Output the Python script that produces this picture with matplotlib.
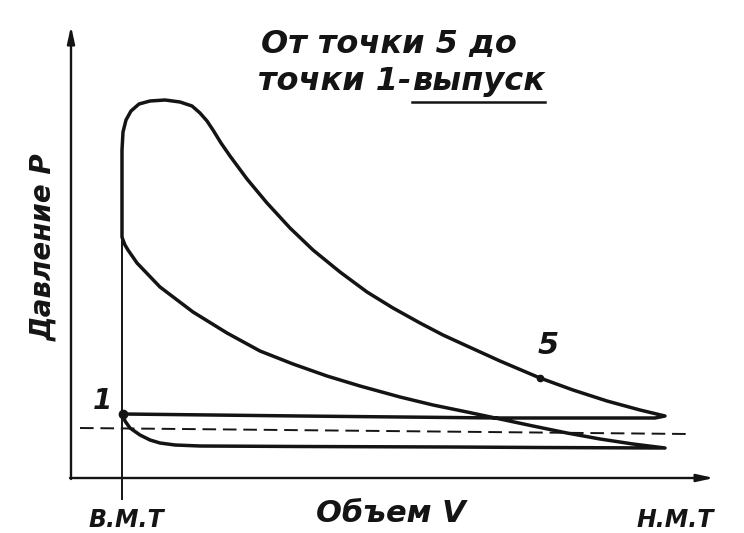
import numpy as np
import matplotlib
matplotlib.use("Agg")
import matplotlib.pyplot as plt

# Indicator diagram of a four-stroke engine (V, P in arbitrary units)
expansion_v = [5.1, 5.1, 5.1, 5.2, 5.5, 6.0, 6.8, 7.9, 9.4, 10.9, 12.1, 12.9, 13.6, 14.2, 15.0,
               15.9, 17.6, 19.6, 21.9, 24.2, 26.9, 29.6, 32.2, 34.9, 37.2, 39.6, 42.9, 46.9,
               50.2, 53.6, 56.9, 59.4]
expansion_p = [24.1, 28.8, 32.8, 34.6, 35.8, 36.7, 37.4, 37.7, 37.8, 37.6, 37.2, 36.5, 35.7, 34.8, 33.5,
               32.2, 29.9, 27.5, 25.0, 22.8, 20.6, 18.6, 17.0, 15.5, 14.3, 13.2, 11.7, 10.0,
               8.8, 7.7, 6.8, 6.2]
exhaust_v = [59.4, 58.4, 42.9, 22.9, 5.2]
exhaust_p = [6.2, 6.0, 6.0, 6.2, 6.4]
intake_v = [5.2, 5.4, 5.9, 6.9, 7.9, 8.9, 10.4, 12.9, 22.9, 37.9, 46.9, 59.4]
intake_p = [6.4, 5.7, 5.0, 4.3, 3.8, 3.5, 3.3, 3.2, 3.15, 3.1, 3.05, 3.0]
compression_v = [59.4, 56.2, 52.9, 49.6, 46.2, 42.9, 39.6, 36.2, 32.9, 28.9, 25.6, 22.2,
                 18.9, 15.6, 12.2, 8.9, 6.6, 5.7, 5.4, 5.2, 5.1]
compression_p = [3.0, 3.4, 3.9, 4.5, 5.2, 5.9, 6.6, 7.3, 8.1, 9.2, 10.2, 11.4,
                 12.7, 14.5, 16.6, 19.1, 21.5, 22.8, 23.3, 23.8, 24.1]
atm_v = [0.9, 61.7]
atm_p = [5.0, 4.4]
bmt_v = 5.1
point1 = (5.2, 6.4)
point5 = (46.9, 10.0)

title_line1 = "От точки 5 до"
title_line2a = "точки 1-"
title_line2b = "выпуск"
xlabel = "Объем V"
ylabel = "Давление P"
bmt_label = "В.М.Т"
nmt_label = "Н.М.Т"

fig = plt.figure(figsize=(7.44, 5.33), dpi=100)
ax = fig.add_axes([0, 0, 1, 1])
ax.set_xlim(-7.1, 67.3)
ax.set_ylim(-5.5, 47.8)
ax.axis("off")

ink = "#141414"
font = dict(family="DejaVu Sans", style="italic", color=ink, fontweight="bold")

# axes with arrows
arrow = dict(arrowstyle="-|>,head_length=1.0,head_width=0.22", lw=1.7, color=ink,
             shrinkA=0, shrinkB=0)
ax.annotate("", xy=(0, 45.2), xytext=(0, -0.1), arrowprops=arrow)
ax.annotate("", xy=(64.3, 0), xytext=(-0.1, 0), arrowprops=arrow)

# BMT line
ax.plot([bmt_v, bmt_v], [-2.2, 24.1], color=ink, lw=1.4, solid_capstyle="butt")

# cycle loop
cycle_v = intake_v + compression_v[1:] + expansion_v[1:] + exhaust_v[1:]
cycle_p = intake_p + compression_p[1:] + expansion_p[1:] + exhaust_p[1:]
ax.plot(cycle_v, cycle_p, color=ink, lw=2.5, solid_joinstyle="round", solid_capstyle="round")

# atmospheric dashed line
ax.plot(atm_v, atm_p, color=ink, lw=1.4, dashes=(7, 3.5))

# points
ax.plot(*point1, "o", color=ink, ms=6)
ax.plot(*point5, "o", color=ink, ms=4.5)

ax.text(3.1, 7.7, "1", fontsize=20, ha="center", va="center", **font)
ax.text(47.7, 13.3, "5", fontsize=22, ha="center", va="center", **font)

ax.text(38.9 - 7.1, 43.4, title_line1, fontsize=23, ha="center", va="center", **font)
ax.text(34.0, 39.6, title_line2a, fontsize=23, ha="right", va="center", **font)
t2 = ax.text(34.1, 39.6, title_line2b, fontsize=23, ha="left", va="center", **font)

ax.text(-2.8, 23.1, ylabel, fontsize=20, rotation=90, ha="center", va="center", **font)
ax.text(32.0, -3.5, xlabel, fontsize=22, ha="center", va="center", **font)
ax.text(5.5, -4.2, bmt_label, fontsize=17, ha="center", va="center", **font)
ax.text(60.4, -4.2, nmt_label, fontsize=17, ha="center", va="center", **font)

# underline under "выпуск"
fig.canvas.draw()
bb = t2.get_window_extent().transformed(ax.transData.inverted())
ax.plot([bb.x0, bb.x1], [37.6, 37.6], color=ink, lw=1.8)

fig.savefig("out.png", dpi=100, facecolor="white")
